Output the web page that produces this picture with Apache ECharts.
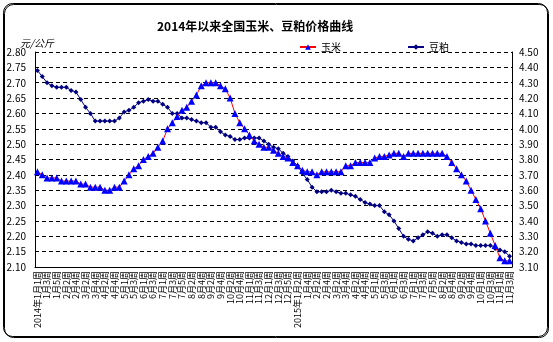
<!DOCTYPE html>
<html>
<head>
<meta charset="utf-8">
<script src="https://cdn.jsdelivr.net/npm/echarts@6/dist/echarts.min.js"></script>
<style>
  html, body { margin: 0; padding: 0; background: #fff; }
  #chart { width: 553px; height: 342px; }
</style>
</head>
<body>
<div id="chart"></div>
<script>
// Weekly categories, 2014-W1 through 2015 November week 3
const weeks = [
  "2014年1月1周","1月2周","1月3周","1月4周","1月5周",
  "2月1周","2月2周","2月3周","2月4周",
  "3月1周","3月2周","3月3周","3月4周",
  "4月1周","4月2周","4月3周","4月4周","4月5周",
  "5月1周","5月2周","5月3周","5月4周",
  "6月1周","6月2周","6月3周","6月4周",
  "7月1周","7月2周","7月3周","7月4周","7月5周",
  "8月1周","8月2周","8月3周","8月4周",
  "9月1周","9月2周","9月3周","9月4周",
  "10月1周","10月2周","10月3周","10月4周","10月5周",
  "11月1周","11月2周","11月3周","11月4周",
  "12月1周","12月2周","12月3周","12月4周","12月5周",
  "1月1周","2015年1月2周","1月3周","1月4周",
  "2月1周","2月2周","2月3周","2月4周",
  "3月1周","3月2周","3月3周","3月4周",
  "4月1周","4月2周","4月3周","4月4周","4月5周",
  "5月1周","5月2周","5月3周","5月4周",
  "6月1周","6月2周","6月3周","6月4周",
  "7月1周","7月2周","7月3周","7月4周","7月5周",
  "8月1周","8月2周","8月3周","8月4周",
  "9月1周","9月2周","9月3周","9月4周","9月5周",
  "10月1周","10月2周","10月3周","10月4周",
  "11月1周","11月2周","11月3周"
];

// Corn price, yuan/kg (left axis)
const cornPrice = [
  2.41,2.40,2.39,2.39,2.39,2.38,2.38,2.38,2.38,2.37,
  2.37,2.36,2.36,2.36,2.35,2.35,2.36,2.36,2.38,2.40,
  2.42,2.43,2.45,2.46,2.47,2.49,2.51,2.55,2.57,2.59,
  2.61,2.62,2.64,2.66,2.69,2.70,2.70,2.70,2.69,2.68,
  2.65,2.60,2.57,2.55,2.53,2.51,2.50,2.49,2.49,2.48,
  2.47,2.46,2.455,2.44,2.43,2.415,2.41,2.41,2.40,2.41,
  2.41,2.41,2.41,2.41,2.43,2.43,2.44,2.44,2.44,2.44,
  2.455,2.46,2.46,2.465,2.47,2.47,2.46,2.47,2.47,2.47,
  2.47,2.47,2.47,2.47,2.47,2.46,2.44,2.42,2.40,2.38,
  2.35,2.32,2.29,2.25,2.21,2.17,2.13,2.12,2.12
];

// Soybean meal price, yuan/kg (right axis)
const soyMealPrice = [
  4.38,4.34,4.30,4.28,4.27,4.27,4.27,4.25,4.24,4.19,
  4.14,4.10,4.05,4.05,4.05,4.05,4.05,4.07,4.11,4.12,
  4.14,4.17,4.18,4.19,4.18,4.18,4.16,4.14,4.10,4.10,
  4.07,4.07,4.06,4.05,4.04,4.04,4.01,4.01,3.98,3.96,
  3.95,3.93,3.93,3.94,3.94,3.94,3.94,3.92,3.90,3.88,
  3.87,3.84,3.82,3.79,3.76,3.71,3.67,3.62,3.59,3.59,
  3.59,3.60,3.59,3.58,3.58,3.57,3.56,3.54,3.52,3.51,
  3.50,3.50,3.46,3.44,3.40,3.35,3.30,3.28,3.27,3.29,
  3.31,3.33,3.32,3.30,3.31,3.31,3.29,3.27,3.26,3.25,
  3.25,3.24,3.24,3.24,3.24,3.22,3.21,3.20,3.17
];

const leftTicks = { min: 2.10, max: 2.80, step: 0.05 };
const rightTicks = { min: 3.10, max: 4.50, step: 0.10 };

const pixFont = 'SimSun, "Noto Sans CJK SC", sans-serif';

const chart = echarts.init(document.getElementById('chart'), null, { renderer: 'canvas' });

chart.setOption({
  backgroundColor: '#ffffff',
  animation: false,
  title: {
    text: '2014年以来全国玉米、豆粕价格曲线',
    left: 152,
    top: 15,
    textStyle: { fontSize: 12, fontWeight: 'bold', color: '#000', fontFamily: pixFont }
  },
  graphic: [
    {
      type: 'rect',
      shape: { x: 3.5, y: 3.5, width: 544, height: 333, r: 9 },
      style: { fill: 'none', stroke: '#000', lineWidth: 1,
               shadowColor: '#000', shadowOffsetX: 1, shadowOffsetY: 1, shadowBlur: 0 },
      silent: true, z: -1
    },
    {
      type: 'text',
      left: 20, top: 38,
      style: { text: '元/公斤', fontSize: 10, fontStyle: 'italic', fill: '#000', fontFamily: pixFont }
    }
  ],
  legend: {
    left: 294,
    top: 37,
    itemGap: 66,
    itemWidth: 16,
    itemHeight: 7,
    textStyle: { fontSize: 10, color: '#000', fontFamily: pixFont },
    data: ['玉米', '豆粕']
  },
  grid: { left: 35, right: 41, top: 52, bottom: 75 },
  xAxis: {
    type: 'category',
    data: weeks,
    boundaryGap: true,
    axisLine: { lineStyle: { color: '#000', width: 1 } },
    axisTick: { inside: true, length: 3, interval: 0, lineStyle: { color: '#000' } },
    axisLabel: {
      interval: 1, rotate: 90, fontSize: 9, margin: 4,
      color: '#000', fontFamily: pixFont
    }
  },
  yAxis: [
    {
      type: 'value',
      min: leftTicks.min, max: leftTicks.max, interval: leftTicks.step,
      axisLine: { show: true, lineStyle: { color: '#000' } },
      axisTick: { show: false },
      splitLine: { show: true, lineStyle: { color: '#000', type: [4, 3], width: 1 } },
      axisLabel: {
        fontSize: 10, color: '#000', margin: 9, fontFamily: pixFont,
        formatter: v => v.toFixed(2)
      }
    },
    {
      type: 'value',
      min: rightTicks.min, max: rightTicks.max, interval: rightTicks.step,
      axisLine: { show: true, lineStyle: { color: '#000' } },
      axisTick: { show: false },
      splitLine: { show: false },
      axisLabel: {
        fontSize: 10, color: '#000', margin: 7, fontFamily: pixFont,
        formatter: v => v.toFixed(2)
      }
    }
  ],
  series: [
    {
      name: '玉米',
      type: 'line',
      yAxisIndex: 0,
      data: cornPrice,
      symbol: 'triangle',
      symbolSize: 7,
      showAllSymbol: true,
      lineStyle: { color: '#ff0000', width: 1 },
      itemStyle: { color: '#0000ff', borderWidth: 0 },
      z: 3
    },
    {
      name: '豆粕',
      type: 'line',
      yAxisIndex: 1,
      data: soyMealPrice,
      symbol: 'diamond',
      symbolSize: 5,
      showAllSymbol: true,
      lineStyle: { color: '#000080', width: 1 },
      itemStyle: { color: '#000080', borderWidth: 0 },
      z: 2
    }
  ]
});
</script>
</body>
</html>
